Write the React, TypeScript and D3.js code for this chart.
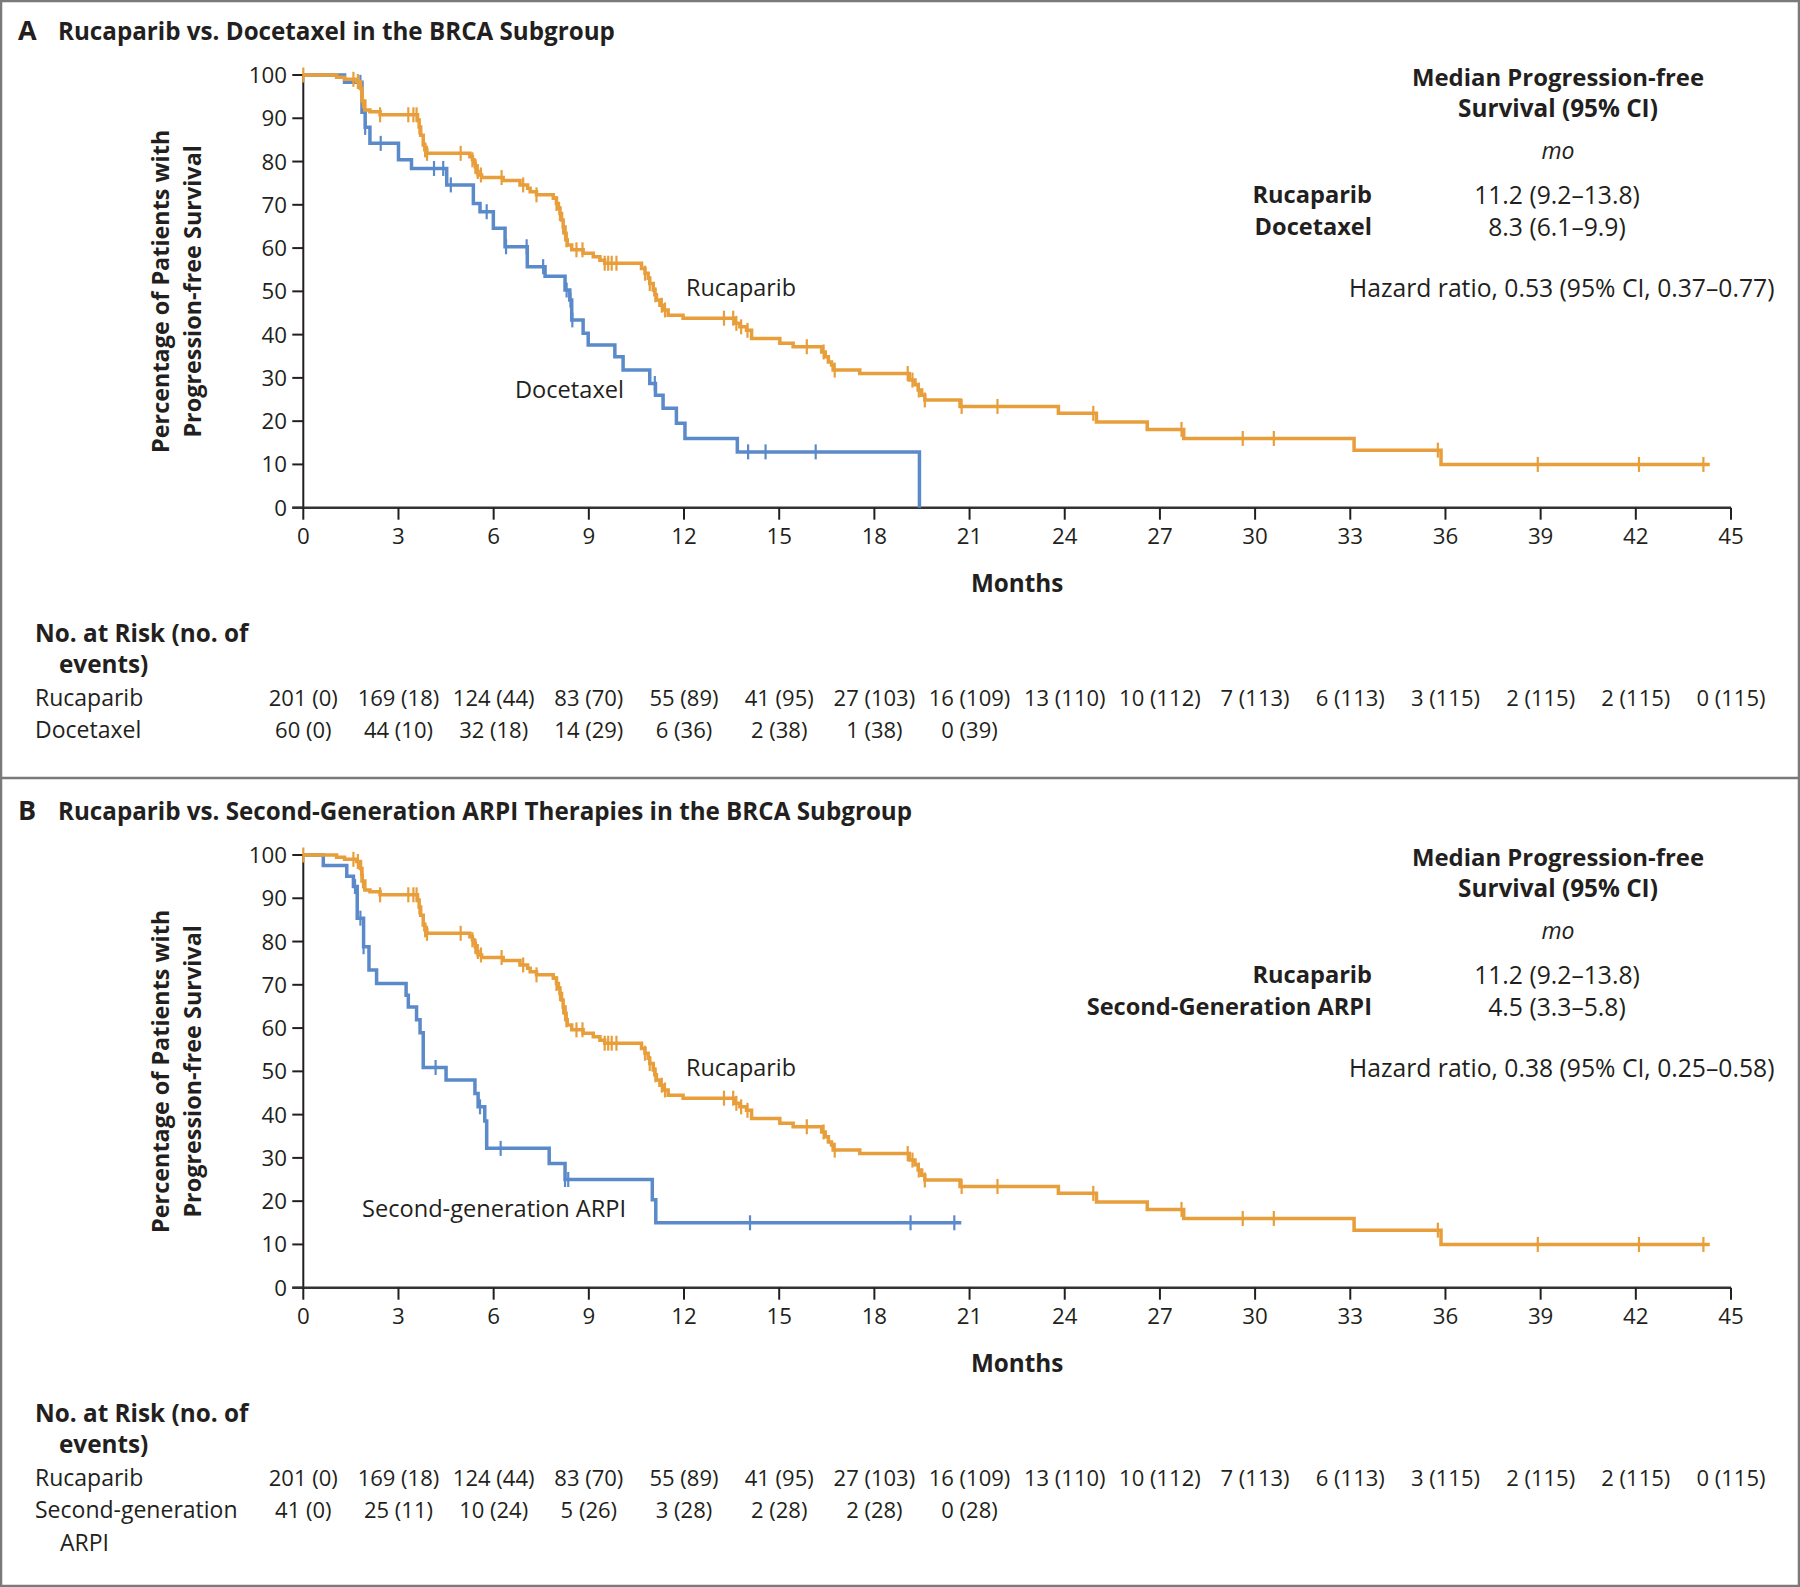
import React from "react";
import * as d3 from "d3";

// ---------- DATA ----------
const monthTicks = [0, 3, 6, 9, 12, 15, 18, 21, 24, 27, 30, 33, 36, 39, 42, 45];
const pctTicks = [0, 10, 20, 30, 40, 50, 60, 70, 80, 90, 100];

// Rucaparib (same curve in both panels): step times (months) and survival (%) after each step
const rucaT = [1.05, 1.3, 1.68, 1.8, 1.85, 1.94, 2.1, 2.42, 3.6, 3.65, 3.7, 3.78, 3.83, 3.89,
  5.25, 5.33, 5.38, 5.42, 5.45, 5.51, 5.62, 6.3, 6.83, 7.07, 7.15, 7.35,
  7.88, 7.98, 8.04, 8.09, 8.14, 8.19, 8.25, 8.28, 8.32, 8.46, 8.82, 9.14, 9.35, 9.5,
  10.66, 10.77, 10.87, 10.92, 11.03, 11.08, 11.13, 11.24, 11.34, 11.5, 11.97,
  13.6, 13.76, 13.97, 14.13, 15.02, 15.44, 16.34, 16.45, 16.55, 16.65, 16.7,
  17.54, 19.1, 19.28, 19.38, 19.49, 19.59, 20.7, 23.8, 25.0, 26.6, 27.75, 33.12, 35.86];
const rucaS = [99.5, 99.0, 98.5, 96.9, 94.0, 91.9, 91.5, 90.8, 89.6, 88.0, 86.1, 83.8, 82.7, 81.9,
  81.1, 80.4, 79.6, 78.8, 77.7, 76.9, 76.3, 75.6, 74.6, 73.8, 73.0, 72.3,
  71.5, 70.3, 69.2, 68.0, 66.5, 64.9, 63.4, 61.9, 60.7, 59.6, 58.8, 58.0, 57.2, 56.5,
  55.3, 54.2, 53.0, 51.8, 50.3, 49.2, 48.0, 46.8, 45.7, 44.5, 43.8,
  42.6, 41.8, 41.0, 39.1, 38.0, 37.2, 36.0, 34.9, 33.7, 33.0, 31.8,
  31.0, 29.5, 28.4, 27.2, 26.0, 24.9, 23.4, 21.8, 19.8, 18.1, 16.0, 13.3, 10.0];
const rucaCensor = [0, 1.58, 1.72, 1.82, 1.88, 2.42, 3.31, 3.47, 3.57, 3.66, 3.84, 3.9, 4.96,
  5.33, 5.43, 5.5, 5.6, 6.25, 6.93, 7.35, 7.98, 8.09, 8.19, 8.25, 8.3, 8.61, 8.8,
  9.5, 9.61, 9.72, 9.87, 10.77, 10.92, 11.1, 11.3, 11.4, 13.26, 13.55, 13.65, 13.8, 14.0,
  15.87, 16.4, 16.75, 19.05, 19.2, 19.4, 19.59, 20.75, 21.88, 24.9, 27.68, 29.61, 30.59,
  35.76, 38.91, 42.1, 44.13];
const rucaEnd = 44.33;

// Docetaxel
const doceT = [1.3, 1.85, 1.95, 2.1, 3.0, 3.41, 4.52, 5.36, 5.57, 5.99, 6.36, 7.06, 7.62,
  8.25, 8.4, 8.46, 8.82, 8.98, 9.82, 10.08, 10.92, 11.1, 11.34, 11.76, 12.03, 13.68, 19.42];
const doceS = [98.3, 91.4, 87.9, 84.2, 80.4, 78.4, 74.6, 70.3, 68.4, 64.6, 60.3, 55.7, 53.5,
  50.3, 48.0, 43.4, 40.3, 37.6, 34.9, 31.8, 28.7, 26.0, 23.0, 19.5, 16.0, 12.9, 0];
const doceCensor = [1.8, 1.95, 2.44, 4.12, 4.41, 4.65, 5.78, 6.39, 7.04, 7.56, 8.3, 8.42,
  8.48, 11.08, 14.02, 14.57, 16.15];
const doceEnd = 19.42;

// Second-generation ARPI
const arpiT = [0.63, 1.37, 1.58, 1.7, 1.9, 2.07, 2.31, 3.24, 3.31, 3.57, 3.68, 3.78, 4.5,
  5.41, 5.51, 5.72, 5.78, 7.75, 8.25, 11.0, 11.11];
const arpiS = [97.6, 95.1, 92.7, 85.4, 78.8, 73.4, 70.3, 67.6, 64.9, 61.9, 58.9, 50.9, 48.0,
  44.9, 41.8, 38.5, 32.2, 28.7, 25.0, 20.3, 15.0];
const arpiCensor = [1.63, 1.8, 1.9, 4.17, 5.57, 6.22, 8.25, 8.35, 14.08, 19.14, 20.52];
const arpiEnd = 20.74;

// Numbers at risk
const riskRuca = ["201 (0)", "169 (18)", "124 (44)", "83 (70)", "55 (89)", "41 (95)", "27 (103)",
  "16 (109)", "13 (110)", "10 (112)", "7 (113)", "6 (113)", "3 (115)", "2 (115)", "2 (115)", "0 (115)"];
const riskDoce = ["60 (0)", "44 (10)", "32 (18)", "14 (29)", "6 (36)", "2 (38)", "1 (38)", "0 (39)"];
const riskArpi = ["41 (0)", "25 (11)", "10 (24)", "5 (26)", "3 (28)", "2 (28)", "2 (28)", "0 (28)"];

// Summary text
const medianRuca = "11.2 (9.2\u201313.8)";
const medianDoce = "8.3 (6.1\u20139.9)";
const medianArpi = "4.5 (3.3\u20135.8)";
const hrA = "Hazard ratio, 0.53 (95% CI, 0.37\u20130.77)";
const hrB = "Hazard ratio, 0.38 (95% CI, 0.25\u20130.58)";

// ---------- STYLE ----------
const FONT = "'Open Sans', Lato, sans-serif";
const INK = "#231f20";
const ORANGE = "#E89E3A";
const BLUE = "#5A8AC9";

type Curve = { t: number[]; s: number[]; censor: number[]; end: number; color: string };

function survAt(c: Curve, time: number) {
  let v = 100;
  for (let i = 0; i < c.t.length; i++) {
    if (c.t[i] <= time) v = c.s[i];
    else break;
  }
  return v;
}

function KMCurve({ c, x, y }: { c: Curve; x: d3.ScaleLinear<number, number>; y: d3.ScaleLinear<number, number> }) {
  const pts: [number, number][] = [[0, 100]];
  c.t.forEach((t, i) => pts.push([t, c.s[i]]));
  pts.push([c.end, c.s[c.s.length - 1]]);
  const line = d3.line<[number, number]>().x(d => x(d[0])).y(d => y(d[1])).curve(d3.curveStepAfter);
  return (
    <g>
      <path d={line(pts) || ""} fill="none" stroke={c.color} strokeWidth={3.5} strokeLinejoin="miter" />
      {c.censor.map((t, i) => {
        const yy = y(survAt(c, t));
        return <line key={i} x1={x(t)} x2={x(t)} y1={yy - 7.5} y2={yy + 7.5} stroke={c.color} strokeWidth={2.2} />;
      })}
    </g>
  );
}

function Panel(props: {
  dy: number; letter: string; title: string; comp: Curve; compName: string; compMedian: string;
  hr: string; compLabel: string; compLabelX: number; compLabelY: number; compRisk: string[];
  compRiskLabel: string[];
}) {
  const { dy } = props;
  const x = d3.scaleLinear().domain([0, 45]).range([303.3, 1731]);
  const y = d3.scaleLinear().domain([0, 100]).range([507.7 + dy, 75 + dy]);
  const ruca: Curve = { t: rucaT, s: rucaS, censor: rucaCensor, end: rucaEnd, color: ORANGE };
  const tickFs = 22.3;
  const riskFs = 22;
  const labFs = 23;
  const boldFs = 24.3;
  const ry = 8; // at-risk vertical shift
  return (
    <g fontFamily={FONT} fill={INK}>
      <text x={18} y={40 + dy} fontSize={27} fontWeight={700}>{props.letter}</text>
      <text x={58} y={40 + dy} fontSize={24.2} fontWeight={700}>{props.title}</text>

      {/* y axis */}
      <line x1={x(0)} x2={x(0)} y1={y(0)} y2={y(100)} stroke={INK} strokeWidth={2} />
      {pctTicks.map(v => (
        <g key={v}>
          <line x1={x(0) - 11} x2={x(0)} y1={y(v)} y2={y(v)} stroke={INK} strokeWidth={2} />
          <text x={287} y={y(v)} dy="0.36em" textAnchor="end" fontSize={tickFs}>{v}</text>
        </g>
      ))}
      {/* x axis */}
      <line x1={x(0) - 11} x2={x(45)} y1={y(0)} y2={y(0)} stroke="#333" strokeWidth={2.6} />
      {monthTicks.map(v => (
        <g key={v}>
          <line x1={x(v)} x2={x(v)} y1={y(0)} y2={y(0) + 12} stroke={INK} strokeWidth={2} />
          <text x={x(v)} y={544 + dy} textAnchor="middle" fontSize={tickFs}>{v}</text>
        </g>
      ))}
      <text x={(x(0) + x(45)) / 2} y={592 + dy} textAnchor="middle" fontSize={boldFs} fontWeight={700}>Months</text>

      {/* y title */}
      <g transform={`translate(169, ${(y(0) + y(100)) / 2}) rotate(-90)`}>
        <text x={0} y={0} textAnchor="middle" fontSize={23.4} fontWeight={700}>Percentage of Patients with</text>
        <text x={0} y={32} textAnchor="middle" fontSize={23.4} fontWeight={700}>Progression-free Survival</text>
      </g>

      {/* curves */}
      <KMCurve c={props.comp} x={x} y={y} />
      <KMCurve c={ruca} x={x} y={y} />

      <text x={686} y={296 + dy} fontSize={23.4}>Rucaparib</text>
      <text x={props.compLabelX} y={props.compLabelY + dy} fontSize={23.6}>{props.compLabel}</text>

      {/* summary */}
      <text x={1558} y={86 + dy} textAnchor="middle" fontSize={23.9} fontWeight={700}>Median Progression-free</text>
      <text x={1558} y={117 + dy} textAnchor="middle" fontSize={24.3} fontWeight={700}>Survival (95% CI)</text>
      <text x={1558} y={159 + dy} textAnchor="middle" fontSize={labFs} fontStyle="italic">mo</text>
      <text x={1372} y={203 + dy} textAnchor="end" fontSize={23.6} fontWeight={700}>Rucaparib</text>
      <text x={1372} y={235 + dy} textAnchor="end" fontSize={23.6} fontWeight={700}>{props.compName}</text>
      <text x={1557} y={204 + dy} textAnchor="middle" fontSize={24.7}>{medianRuca}</text>
      <text x={1557} y={236 + dy} textAnchor="middle" fontSize={24.7}>{props.compMedian}</text>
      <text x={1349} y={297 + dy} fontSize={24.7}>{props.hr}</text>

      {/* numbers at risk */}
      <text x={35} y={634 + ry + dy} fontSize={boldFs} fontWeight={700}>No. at Risk (no. of</text>
      <text x={59} y={665 + ry + dy} fontSize={boldFs} fontWeight={700}>events)</text>
      <text x={35} y={698 + ry + dy} fontSize={labFs}>Rucaparib</text>
      {props.compRiskLabel.map((l, i) => (
        <text key={i} x={i === 0 ? 35 : 60} y={730 + 33 * i + ry + dy} fontSize={labFs}>{l}</text>
      ))}
      {riskRuca.map((r, i) => (
        <text key={i} x={x(monthTicks[i])} y={698 + ry + dy} textAnchor="middle" fontSize={riskFs}>{r}</text>
      ))}
      {props.compRisk.map((r, i) => (
        <text key={i} x={x(monthTicks[i])} y={730 + ry + dy} textAnchor="middle" fontSize={riskFs}>{r}</text>
      ))}
    </g>
  );
}

export default function App() {
  const doce: Curve = { t: doceT, s: doceS, censor: doceCensor, end: doceEnd, color: BLUE };
  const arpi: Curve = { t: arpiT, s: arpiS, censor: arpiCensor, end: arpiEnd, color: BLUE };
  return (
    <div style={{ position: "absolute", left: 0, top: 0 }}>
      <svg width={1800} height={1587} viewBox="0 0 1800 1587" style={{ display: "block", background: "#fff" }}>
        <rect x={0} y={0} width={1800} height={1587} fill="#fff" />
        <Panel dy={0} letter="A" title="Rucaparib vs. Docetaxel in the BRCA Subgroup"
          comp={doce} compName="Docetaxel" compMedian={medianDoce} hr={hrA}
          compLabel="Docetaxel" compLabelX={515} compLabelY={398}
          compRisk={riskDoce} compRiskLabel={["Docetaxel"]} />
        <Panel dy={780} letter="B" title="Rucaparib vs. Second-Generation ARPI Therapies in the BRCA Subgroup"
          comp={arpi} compName="Second-Generation ARPI" compMedian={medianArpi} hr={hrB}
          compLabel="Second-generation ARPI" compLabelX={362} compLabelY={437}
          compRisk={riskArpi} compRiskLabel={["Second-generation", "ARPI"]} />
        <line x1={0} x2={1800} y1={778} y2={778} stroke="#7a7a7a" strokeWidth={2.5} />
        <rect x={1} y={1} width={1798} height={1585} fill="none" stroke="#7a7a7a" strokeWidth={2.5} />
      </svg>
    </div>
  );
}
